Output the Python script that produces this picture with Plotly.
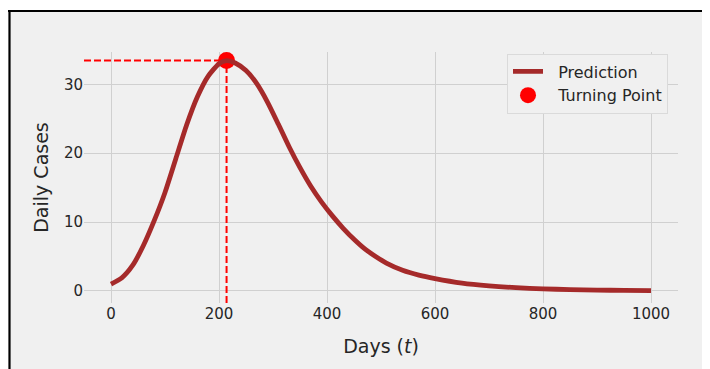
import plotly.graph_objects as go

# ---- data ----
days = [0, 20, 40, 60, 80, 100, 120, 140, 160, 180, 200, 214, 230, 250, 270, 290,
        310, 330, 350, 370, 390, 410, 430, 450, 470, 490, 510, 540, 570, 600, 650,
        700, 750, 800, 850, 900, 950, 1000]
daily_cases = [1.0, 1.9, 3.7, 6.6, 10.2, 14.3, 19.2, 24.1, 28.2, 31.2, 33.0, 33.45,
               33.1, 32.0, 30.1, 27.4, 24.2, 20.9, 17.9, 15.2, 12.9, 10.9, 9.1, 7.5,
               6.1, 5.0, 4.05, 3.0, 2.3, 1.8, 1.15, 0.75, 0.48, 0.3, 0.2, 0.13, 0.08, 0.05]
x_ticks = [0, 200, 400, 600, 800, 1000]
y_ticks = [0, 10, 20, 30]
x_range = [-50, 1050]
y_range = [-1.75, 34.7]

peak_i = max(range(len(daily_cases)), key=lambda i: daily_cases[i])
tp_day = days[peak_i]
tp_val = daily_cases[peak_i]

BG = "#f0f0f0"
GRID = "#d0d0d0"
TXT = "#262626"
FONT = "DejaVu Sans"
NB = "\u00a0\u00a0"

fig = go.Figure()

# dashed guide lines to the turning point
fig.add_trace(go.Scatter(x=[x_range[0], tp_day], y=[tp_val, tp_val], mode="lines",
                         line=dict(color="red", width=2, dash="7px,3px"),
                         showlegend=False, hoverinfo="skip"))
fig.add_trace(go.Scatter(x=[tp_day, tp_day], y=[y_range[0], tp_val], mode="lines",
                         line=dict(color="red", width=2, dash="7px,3px"),
                         showlegend=False, hoverinfo="skip"))

# turning point marker (drawn under the curve)
fig.add_trace(go.Scatter(x=[tp_day], y=[tp_val], mode="markers",
                         marker=dict(color="red", size=17, line=dict(width=0)),
                         name=NB + "Turning Point", legendrank=2, legendgroup="b"))

# prediction curve
fig.add_trace(go.Scatter(x=days, y=daily_cases, mode="lines",
                         line=dict(color="#a52a2a", width=4.8, shape="spline", smoothing=0.6),
                         name=NB + "Prediction", legendrank=1, legendgroup="a"))

# page has an 8px body margin; work in window pixels and subtract it
OFF = 8
W, H = 710 - OFF, 369 - OFF
L, R, T, B = 84 - OFF, 32, 52 - OFF, 66
pw, ph = W - L - R, H - T - B

def px_x(p):
    return (p - OFF - L) / pw

def px_y(p):
    return (H - B - (p - OFF)) / ph

shapes = [
    # white outside the figure frame
    dict(type="rect", xref="paper", yref="paper", x0=px_x(-20), x1=px_x(740),
         y0=px_y(10.5), y1=px_y(-20), fillcolor="white", line=dict(width=0), layer="above"),
    dict(type="rect", xref="paper", yref="paper", x0=px_x(-20), x1=px_x(8.5),
         y0=px_y(400), y1=px_y(-20), fillcolor="white", line=dict(width=0), layer="above"),
    # black frame edges
    dict(type="line", xref="paper", yref="paper", x0=px_x(8), x1=px_x(740),
         y0=px_y(11), y1=px_y(11), line=dict(color="black", width=2.2), layer="above"),
    dict(type="line", xref="paper", yref="paper", x0=px_x(9.5), x1=px_x(9.5),
         y0=px_y(10), y1=px_y(400), line=dict(color="black", width=2.2), layer="above"),
]

fig.update_layout(
    width=W, height=H,
    margin=dict(l=L, r=R, t=T, b=B, pad=0),
    paper_bgcolor=BG, plot_bgcolor=BG,
    font=dict(family=FONT, size=15, color=TXT),
    shapes=shapes,
    showlegend=True,
    legend=dict(x=px_x(507), y=px_y(53.5), xanchor="left", yanchor="top",
                bgcolor=BG, bordercolor="#dadada", borderwidth=1,
                font=dict(family=FONT, size=16, color=TXT),
                tracegroupgap=0, itemwidth=30),
    xaxis=dict(range=x_range, tickvals=x_ticks, showgrid=True, gridcolor=GRID,
               gridwidth=1, zeroline=False, showline=False, ticks="",
               tickfont=dict(size=15, color=TXT),
               title=dict(text="Days (<i>t</i>)", font=dict(size=19, color=TXT), standoff=17)),
    yaxis=dict(range=y_range, tickvals=y_ticks, showgrid=True, gridcolor=GRID,
               gridwidth=1, zeroline=False, showline=False, ticks="",
               tickfont=dict(size=15, color=TXT),
               title=dict(text="Daily Cases", font=dict(size=19, color=TXT), standoff=10)),
)

fig.write_html("out.html")
